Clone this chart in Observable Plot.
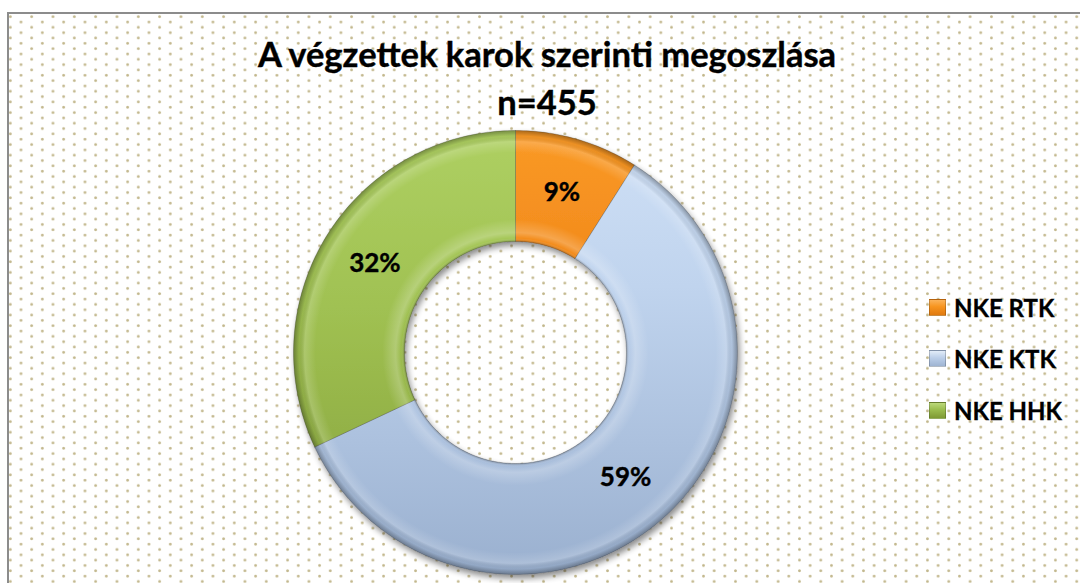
<!DOCTYPE html>
<html><head><meta charset="utf-8">
<script src="https://cdn.jsdelivr.net/npm/d3@7"></script>
<script src="https://cdn.jsdelivr.net/npm/@observablehq/plot@0.6"></script>
<style>
html,body{margin:0;padding:0;background:#fff;width:1080px;height:583px;overflow:hidden;position:relative;font-family:Lato,"Open Sans",sans-serif;}
#frame{position:absolute;left:7px;top:12px;width:1200px;height:700px;border:2px solid #8c8c8c;box-sizing:border-box;
 background-color:#fff;
 background-image:
  radial-gradient(circle at 5.33px 2.67px, #c2b78c 0, #c2b78c 0.9px, rgba(194,183,140,0) 1.8px),
  radial-gradient(circle at 16px 8px, #c2b78c 0, #c2b78c 0.9px, rgba(194,183,140,0) 1.8px);
 background-size:21.33px 10.67px;background-position:-4px 0px;}
#chart{position:absolute;left:0;top:0;}
#title{position:absolute;left:0;width:1094px;top:30px;text-align:center;font-weight:700;font-size:34.5px;line-height:48px;color:#000;-webkit-text-stroke:0.4px #000;}
.leg{position:absolute;left:929px;height:26px;display:flex;align-items:center;font-weight:700;font-size:24px;color:#000;-webkit-text-stroke:0.3px #000;}
.sw{width:17px;height:17px;margin-right:8px;box-sizing:border-box;border:1px solid rgba(0,0,0,0.2);}
</style></head>
<body>
<div id="frame"></div>
<div id="chart"></div>
<div id="title"></div>
<div id="legend"></div>
<script>
const categories = ["NKE RTK", "NKE KTK", "NKE HHK"];
const shares = [9, 59, 32];
const labels = ["9%", "59%", "32%"];
const titleLines = ["A végzettek karok szerinti megoszlása", "n=455"];

const gradIds = ["gOrange", "gBlue", "gGreen"];
const fills = gradIds.map(id => `url(#${id})`);
const swatchCss = [
  "linear-gradient(to bottom,#fbb35a 0%,#f7941e 45%,#e07a10 100%)",
  "linear-gradient(to bottom,#e2ecf8 0%,#bccfe9 45%,#9fb4d2 100%)",
  "linear-gradient(to bottom,#bcd97a 0%,#9bbd4e 45%,#7f9a34 100%)"
];

(function () {
// pie geometry from the shares
const total = d3.sum(shares);
const inner = 0.5;
let acc = 0;
const slices = categories.map((key, i) => {
  const a0 = acc / total * 2 * Math.PI;
  acc += shares[i];
  const a1 = acc / total * 2 * Math.PI;
  return {key, a0, a1, mid: (a0 + a1) / 2, label: labels[i]};
});
const points = [];
for (const s of slices) {
  const n = Math.max(8, Math.ceil((s.a1 - s.a0) / (Math.PI / 180)));
  for (let j = 0; j <= n; j++) {
    const a = s.a0 + (s.a1 - s.a0) * j / n;
    points.push({key: s.key, x: Math.sin(a), y: Math.cos(a)});
  }
  for (let j = n; j >= 0; j--) {
    const a = s.a0 + (s.a1 - s.a0) * j / n;
    points.push({key: s.key, x: inner * Math.sin(a), y: inner * Math.cos(a)});
  }
  points.push({key: s.key, x: Math.sin(s.a0), y: Math.cos(s.a0)});
}
const labelR = (1 + inner) / 2;

const plot = Plot.plot({
  width: 1080, height: 583,
  margin: 0,
  style: {background: "transparent", fontFamily: "Lato, 'Open Sans', sans-serif", overflow: "visible"},
  x: {domain: [-1, 1], range: [293, 737], axis: null},
  y: {domain: [-1, 1], range: [574, 130], axis: null},
  color: {type: "ordinal", domain: categories, range: fills},
  marks: [
    Plot.line(points, {x: "x", y: "y", z: "key", fill: "key", stroke: "rgba(60,60,60,0.35)", strokeWidth: 0.8, curve: "linear"}),
    Plot.line(points, {x: "x", y: "y", z: "key", fill: "url(#bevel)", stroke: "none", curve: "linear"}),
    Plot.text(slices, {
      x: d => labelR * Math.sin(d.mid),
      y: d => labelR * Math.cos(d.mid),
      text: "label",
      fontSize: 26, fontWeight: "bold", fill: "#000", stroke: "#000", strokeWidth: 0.4
    })
  ]
});

const sx = plot.scale("x"), sy = plot.scale("y");
const cx = sx.apply(0), cy = sy.apply(0), R = sx.apply(1) - cx;
const yTop = sy.apply(1), yBot = sy.apply(-1);
const ns = "http://www.w3.org/2000/svg";
const defs = document.createElementNS(ns, "defs");
const lin = (id, stops) => `<linearGradient id="${id}" gradientUnits="userSpaceOnUse" x1="0" y1="${yTop}" x2="0" y2="${yBot}">` +
  stops.map(([o, c]) => `<stop offset="${o}" stop-color="${c}"/>`).join("") + `</linearGradient>`;
defs.innerHTML =
  lin("gOrange", [[0, "#fa9a26"], [0.3, "#f28a1c"], [1, "#d9720c"]]) +
  lin("gBlue", [[0, "#cfe0f6"], [0.35, "#c0d4ee"], [0.7, "#acc1de"], [1, "#9ab0cf"]]) +
  lin("gGreen", [[0, "#aed062"], [0.4, "#a0c152"], [1, "#84a03a"]]) +
  `<radialGradient id="bevel" gradientUnits="userSpaceOnUse" cx="${cx}" cy="${cy}" r="${R}">
     <stop offset="0.5" stop-color="#000" stop-opacity="0.28"/>
     <stop offset="0.515" stop-color="#fff" stop-opacity="0.0"/>
     <stop offset="0.54" stop-color="#fff" stop-opacity="0.22"/>
     <stop offset="0.6" stop-color="#fff" stop-opacity="0"/>
     <stop offset="0.9" stop-color="#fff" stop-opacity="0"/>
     <stop offset="0.95" stop-color="#fff" stop-opacity="0.18"/>
     <stop offset="0.975" stop-color="#000" stop-opacity="0.05"/>
     <stop offset="1" stop-color="#000" stop-opacity="0.32"/>
   </radialGradient>
   <filter id="shadow" x="-10%" y="-10%" width="125%" height="125%">
     <feGaussianBlur in="SourceAlpha" stdDeviation="3"/>
     <feOffset dx="2" dy="4" result="o"/>
     <feComponentTransfer><feFuncA type="linear" slope="0.45"/></feComponentTransfer>
     <feMerge><feMergeNode/><feMergeNode in="SourceGraphic"/></feMerge>
   </filter>`;
plot.insertBefore(defs, plot.firstChild);
const lineGroups = plot.querySelectorAll('g[aria-label="line"]');
if (lineGroups[0]) lineGroups[0].setAttribute("filter", "url(#shadow)");
document.getElementById("chart").appendChild(plot);

document.getElementById("title").innerHTML = titleLines.map(t => `<div>${t}</div>`).join("");

const legend = document.getElementById("legend");
categories.forEach((c, i) => {
  const row = document.createElement("div");
  row.className = "leg";
  row.style.top = (307.5 + i * 51.25 - 13) + "px";
  row.innerHTML = `<div class="sw" style="background:${swatchCss[i]}"></div><span>${c}</span>`;
  legend.appendChild(row);
});
})();
</script>
</body></html>
